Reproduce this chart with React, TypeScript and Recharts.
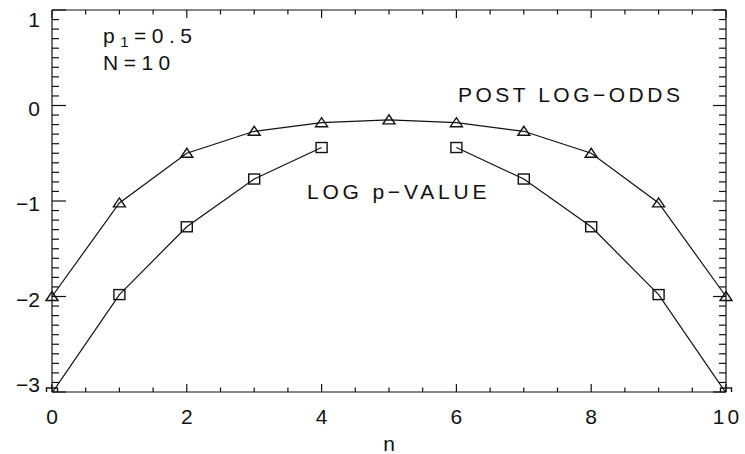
import React from 'react';
import { LineChart, Line, XAxis, YAxis, ReferenceLine } from 'recharts';

const nValues = [0, 1, 2, 3, 4, 5, 6, 7, 8, 9, 10];
const postLogOdds = [-2.0, -1.02, -0.5, -0.27, -0.18, -0.15, -0.18, -0.27, -0.5, -1.02, -2.0];
const logPValue: (number | null)[] = [-3.01, -1.98, -1.27, -0.77, -0.44, null, -0.44, -0.77, -1.27, -1.98, -3.01];

const xTicks = Array.from({ length: 21 }, (_, i) => i / 2);
const yTicks = Array.from({ length: 41 }, (_, i) => (i - 30) / 10);
const xMajorTicks = [0, 2, 4, 6, 8, 10];
const xMajorLabels = ['0', '2', '4', '6', '8', '10'];
const yMajorTicks = [-3, -2, -1, 0, 1];
const yMajorLabels = ['\u22123', '\u22122', '\u22121', '0', '1'];

const data = nValues.map((n, i) => ({ n, post: postLogOdds[i], logp: logPValue[i] }));

const FONT = 'Liberation Sans, Arial, sans-serif';
const INK = '#111';

const isInt = (v: number) => Math.abs(v - Math.round(v)) < 1e-6;

const BottomTick = (props: any) => {
  const { x, y, payload } = props;
  const v = Number(payload.value);
  const idx = Math.round(v) / 2;
  return (
    <text x={Number(x) + 1.5} y={Number(y) + 32} textAnchor="middle" fontFamily={FONT} fontSize={21} letterSpacing={3} fill={INK}>
      {xMajorLabels[idx]}
    </text>
  );
};

const LeftTick = (props: any) => {
  const { x, y, payload } = props;
  const v = Math.round(Number(payload.value));
  const idx = v + 3;
  let base = Number(y) + 10;
  if (v === 1) base = Number(y) + 17;
  if (v === -3) base = Number(y);
  return (
    <text x={Number(x) - 12} y={base} textAnchor="end" fontFamily={FONT} fontSize={21} fill={INK}>
      {yMajorLabels[idx]}
    </text>
  );
};

const XTickMarks = (props: any) => {
  const { x1, y1, y2, major } = props;
  const top = Math.min(Number(y1), Number(y2));
  const bottom = Math.max(Number(y1), Number(y2));
  const x = Number(x1);
  const len = major ? 8 : 4.5;
  return (
    <g>
      <line x1={x} y1={bottom} x2={x} y2={bottom - len} stroke={INK} strokeWidth={1.2} />
      <line x1={x} y1={top} x2={x} y2={top + len} stroke={INK} strokeWidth={1.2} />
    </g>
  );
};

const YTickMarks = (props: any) => {
  const { x1, x2, y1, major } = props;
  const left = Math.min(Number(x1), Number(x2));
  const right = Math.max(Number(x1), Number(x2));
  const y = Number(y1);
  const lenL = major ? 14 : 7;
  const lenR = major ? 13 : 7;
  return (
    <g>
      <line x1={left} y1={y} x2={left + lenL} y2={y} stroke={INK} strokeWidth={1.2} />
      <line x1={right} y1={y} x2={right - lenR} y2={y} stroke={INK} strokeWidth={1.2} />
    </g>
  );
};

const Triangle = (props: any) => {
  const { cx, cy } = props;
  if (cx == null || cy == null || isNaN(cy)) return null;
  return (
    <polygon
      points={`${cx - 6},${cy + 4} ${cx + 6},${cy + 4} ${cx},${cy - 5}`}
      fill="none"
      stroke={INK}
      strokeWidth={1.4}
    />
  );
};

const Square = (props: any) => {
  const { cx, cy } = props;
  if (cx == null || cy == null || isNaN(cy)) return null;
  return <rect x={cx - 5.5} y={cy - 5} width={11} height={10} fill="none" stroke={INK} strokeWidth={1.4} />;
};

export default function App() {
  return (
    <div style={{ position: 'absolute', left: 0, top: 0, width: 745, height: 454, background: '#fff' }}>
      <LineChart width={745} height={454} data={data} margin={{ top: 10, right: 19, bottom: 0, left: 0 }}>
        <XAxis
          xAxisId="bottom"
          dataKey="n"
          type="number"
          domain={[0, 10]}
          ticks={xMajorTicks}
          interval={0}
          height={62}
          tickSize={0}
          tickMargin={0}
          tickLine={false}
          axisLine={{ stroke: INK, strokeWidth: 1.2 }}
          tick={<BottomTick />}
        />
        <YAxis
          yAxisId="left"
          type="number"
          domain={[-3, 1]}
          allowDataOverflow
          ticks={yMajorTicks}
          interval={0}
          width={52}
          tickSize={0}
          tickMargin={0}
          tickLine={false}
          axisLine={{ stroke: INK, strokeWidth: 1.2 }}
          tick={<LeftTick />}
        />
        <ReferenceLine xAxisId="bottom" yAxisId="left" y={1} stroke={INK} strokeWidth={1.2} />
        <ReferenceLine xAxisId="bottom" yAxisId="left" x={10} stroke={INK} strokeWidth={1.2} />
        {xTicks.map((v) => (
          <ReferenceLine
            key={`xt${v}`}
            xAxisId="bottom"
            yAxisId="left"
            x={v}
            stroke={INK}
            shape={(p: any) => <XTickMarks {...p} major={isInt(v) && Math.round(v) % 2 === 0} />}
          />
        ))}
        {yTicks.map((v) => (
          <ReferenceLine
            key={`yt${v}`}
            xAxisId="bottom"
            yAxisId="left"
            y={v}
            stroke={INK}
            shape={(p: any) => <YTickMarks {...p} major={isInt(v)} />}
          />
        ))}
        <Line
          xAxisId="bottom"
          yAxisId="left"
          type="linear"
          dataKey="post"
          stroke={INK}
          strokeWidth={1.2}
          dot={<Triangle />}
          activeDot={false}
          isAnimationActive={false}
        />
        <Line
          xAxisId="bottom"
          yAxisId="left"
          type="linear"
          dataKey="logp"
          stroke={INK}
          strokeWidth={1.2}
          dot={<Square />}
          activeDot={false}
          connectNulls={false}
          isAnimationActive={false}
        />
        <text x={103} y={43} fontFamily={FONT} fontSize={21} letterSpacing={5.5} fill={INK}>
          p
          <tspan fontSize={15} dy={4}>1</tspan>
          <tspan dy={-4}>=0.5</tspan>
        </text>
        <text x={103} y={70} fontFamily={FONT} fontSize={21} letterSpacing={5.5} fill={INK}>
          N=10
        </text>
        <text x={458} y={102} fontFamily={FONT} fontSize={21} letterSpacing={3.5} fill={INK}>
          POST LOG−ODDS
        </text>
        <text x={307} y={199} fontFamily={FONT} fontSize={21} letterSpacing={3.8} fill={INK}>
          LOG p−VALUE
        </text>
        <text x={389} y={451} textAnchor="middle" fontFamily={FONT} fontSize={21} fill={INK}>
          n
        </text>
      </LineChart>
    </div>
  );
}
